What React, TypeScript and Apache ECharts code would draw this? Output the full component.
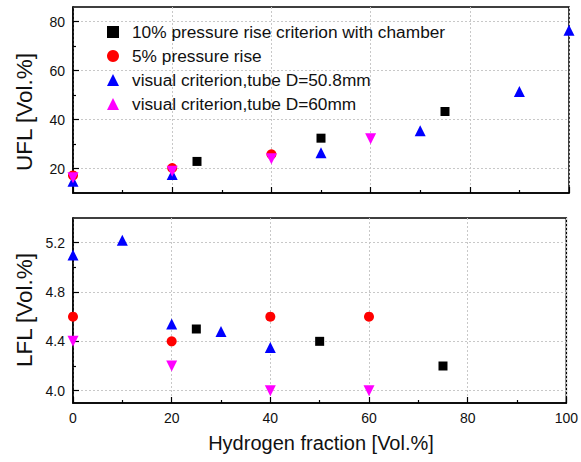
import React, { useEffect, useRef } from "react";
import * as echarts from "echarts";

const seriesNames = [
  "10% pressure rise criterion with chamber",
  "5% pressure rise",
  "visual criterion,tube D=50.8mm",
  "visual criterion,tube D=60mm",
];

// UFL (top panel)
const uflChamber10: [number, number][] = [[25, 22.9], [50, 32.4], [75, 43.3]];
const uflRise5: [number, number][] = [[0, 17.2], [20, 20.2], [40, 25.8]];
const uflTube508: [number, number][] = [[0, 14.8], [20, 17.6], [50, 26.4], [70, 35.4], [90, 51.5], [100, 76.5]];
const uflTube60: [number, number][] = [[0, 16.2], [20, 18.9], [40, 24.0], [60, 32.2]];

// LFL (bottom panel)
const lflChamber10: [number, number][] = [[25, 4.5], [50, 4.4], [75, 4.2]];
const lflRise5: [number, number][] = [[0, 4.6], [20, 4.4], [40, 4.6], [60, 4.6]];
const lflTube508: [number, number][] = [[0, 5.1], [10, 5.22], [20, 4.54], [30, 4.48], [40, 4.35]];
const lflTube60: [number, number][] = [[0, 4.4], [20, 4.2], [40, 4.0], [60, 4.0]];

const uflMajorTicks = [20, 40, 60, 80];
const uflMinorTicks = [30, 50, 70];
const lflMajorTicks = [4.0, 4.4, 4.8, 5.2];
const lflMinorTicks = [4.2, 4.6, 5.0];

const FONT = "'Liberation Sans', Arial, sans-serif";

export default function App() {
  const ref = useRef<HTMLDivElement>(null);
  useEffect(() => {
    if (!ref.current) return;
    const chart = echarts.init(ref.current, null, { renderer: "svg" });

    const gridLeft = 73;
    const gridRight = 12;
    const grids = [
      { left: gridLeft, right: gridRight, top: 7, height: 186, show: true, borderColor: "#000", borderWidth: 1.5 },
      { left: gridLeft, right: gridRight, top: 218, height: 185, show: true, borderColor: "#000", borderWidth: 1.5 },
    ];

    const splitLine = { show: true, lineStyle: { color: "#c8c8c8", type: [2, 2] as any, width: 1 } };
    const axisLine = { show: true, lineStyle: { color: "#000", width: 1.5 } };
    const labelStyle = { color: "#111", fontSize: 14, fontFamily: FONT };

    const xAxisBase = (gridIndex: number, showLabel: boolean) => ({
      type: "value",
      gridIndex,
      min: 0,
      max: 100,
      interval: 20,
      axisLine,
      axisTick: { show: true, inside: true, length: 6, lineStyle: { color: "#000", width: 1.2 } },
      minorTick: { show: true, splitNumber: 2, length: 3, lineStyle: { color: "#000", width: 1.2 } },
      splitLine,
      axisLabel: { show: showLabel, margin: 8, ...labelStyle },
    });

    const yMain = (gridIndex: number, min: number, max: number, ticks: number[], fmt: (v: number) => string) => ({
      type: "value",
      gridIndex,
      min,
      max,
      axisLine,
      axisTick: { show: true, inside: true, length: 6, customValues: ticks, lineStyle: { color: "#000", width: 1.2 } },
      axisLabel: { show: true, margin: 8, customValues: ticks, formatter: fmt, ...labelStyle },
      splitLine,
    });
    const yMinor = (gridIndex: number, min: number, max: number, ticks: number[]) => ({
      type: "value",
      gridIndex,
      min,
      max,
      position: "left",
      axisLine: { show: false },
      axisTick: { show: true, inside: true, length: 3, customValues: ticks, lineStyle: { color: "#000", width: 1.2 } },
      axisLabel: { show: false },
      splitLine: { show: false },
    });

    const colors = ["#000000", "#ff0000", "#0000ff", "#ff00ff"];
    const symbols = ["rect", "circle", "triangle", "triangle"];
    const rot = [0, 0, 0, 180];
    const sizes = [9, 10, 11, 11];
    const mk = (i: number, data: [number, number][], xi: number, yi: number) => ({
      type: "scatter",
      name: seriesNames[i],
      xAxisIndex: xi,
      yAxisIndex: yi,
      data,
      symbol: symbols[i],
      symbolRotate: rot[i],
      symbolSize: sizes[i],
      itemStyle: { color: colors[i], opacity: 1 },
      z: 3 + i,
    });

    chart.setOption({
      animation: false,
      backgroundColor: "#fff",
      grid: grids,
      xAxis: [xAxisBase(0, false), xAxisBase(1, true)],
      yAxis: [
        yMain(0, 10, 86, uflMajorTicks, (v: number) => String(v)),
        yMinor(0, 10, 86, uflMinorTicks),
        yMain(1, 3.9, 5.4, lflMajorTicks, (v: number) => v.toFixed(1)),
        yMinor(1, 3.9, 5.4, lflMinorTicks),
      ],
      legend: {
        show: true,
        orient: "vertical",
        left: 102,
        top: 17,
        itemWidth: 12,
        itemHeight: 12,
        itemGap: 4,
        data: seriesNames,
        textStyle: { fontSize: 17.3, lineHeight: 20, color: "#111", fontFamily: FONT, padding: [0, 0, 0, 8] },
      },
      graphic: [
        {
          type: "text",
          x: 24,
          y: 112,
          rotation: Math.PI / 2,
          style: { text: "UFL [Vol.%]", fontSize: 22.5, fontFamily: FONT, fill: "#111", align: "center", verticalAlign: "middle" },
        },
        {
          type: "text",
          x: 24,
          y: 310,
          rotation: Math.PI / 2,
          style: { text: "LFL [Vol.%]", fontSize: 22.5, fontFamily: FONT, fill: "#111", align: "center", verticalAlign: "middle" },
        },
        {
          type: "text",
          x: 321,
          y: 443,
          style: { text: "Hydrogen fraction [Vol.%]", fontSize: 20, fontFamily: FONT, fill: "#111", align: "center", verticalAlign: "middle" },
        },
      ],
      series: [
        mk(0, uflChamber10, 0, 0),
        mk(1, uflRise5, 0, 0),
        mk(2, uflTube508, 0, 0),
        mk(3, uflTube60, 0, 0),
        mk(0, lflChamber10, 1, 2),
        mk(1, lflRise5, 1, 2),
        mk(2, lflTube508, 1, 2),
        mk(3, lflTube60, 1, 2),
      ],
    });
    return () => chart.dispose();
  }, []);
  return <div ref={ref} style={{ position: "fixed", left: 0, top: 0, width: 581, height: 462 }} />;
}
